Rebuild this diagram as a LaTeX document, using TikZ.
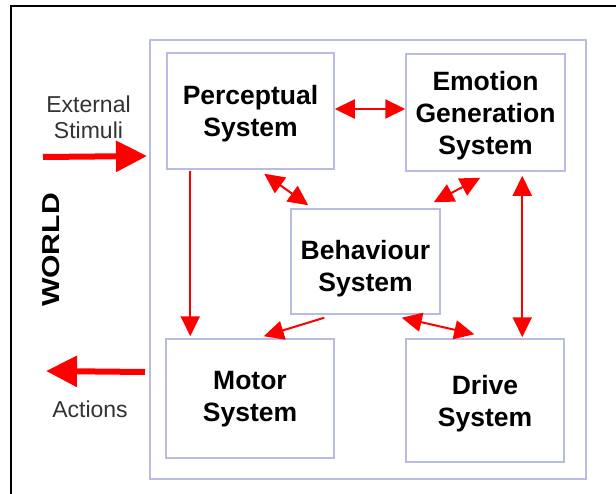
\documentclass[tikz,border=0pt]{standalone}
\usepackage{fontspec}
\usepackage{graphicx}
\setmainfont{Liberation Sans}
\usetikzlibrary{arrows.meta,calc}
\definecolor{boxblue}{RGB}{184,188,228}
\definecolor{arrowred}{RGB}{255,0,0}
\definecolor{labelgray}{RGB}{51,51,51}

\begin{document}
\begin{tikzpicture}[x=1bp,y=-1bp,
  sysbox/.style={draw=boxblue, line width=1.5bp, fill=white, inner sep=0pt,
    align=center, text=black,
    font=\fontsize{26.5bp}{32bp}\selectfont\bfseries},
  % lowers the label inside its box by adjusting the text box depth
  lower/.style={text depth=#1},
  link/.style={draw=arrowred, line width=2bp, -{Triangle[length=20bp,width=19bp]}},
  duplex/.style={link, {Triangle[length=20bp,width=19bp]}-{Triangle[length=20bp,width=19bp]}},
  bigarrow/.style={draw=arrowred, line width=6bp, -{Triangle[length=31bp,width=30bp]}},
  side/.style={font=\fontsize{23bp}{26bp}\selectfont, text=labelgray, align=center}]

  % page and outer frame
  \useasboundingbox (0,0) rectangle (616,494);
  \fill[white] (0,0) rectangle (616,494);
  \draw[black, line width=2bp] (11,494) -- (11,6) -- (616,6);

  % the agent's enclosing box
  \node[draw=boxblue, line width=2bp, inner sep=0pt,
        minimum width=436bp, minimum height=439bp] (world) at (368,259.5) {};

  % subsystems
  \node[sysbox, lower=-0.4bp, minimum width=167bp, minimum height=116bp] (perc)  at (250.5,111)   {Perceptual\\System};
  \node[sysbox, lower=-3.4bp, minimum width=159bp, minimum height=117bp] (emo)   at (485.5,112.5) {Emotion\\Generation\\System};
  \node[sysbox, text depth=0bp, text height=60bp, minimum width=149bp, minimum height=105bp] (beh) at (365.5,261.5) {Behaviour\\System};
  \node[sysbox, lower=3.6bp,  minimum width=168bp, minimum height=119bp] (motor) at (250,398.5)   {Motor\\System};
  \node[sysbox, lower=-3.4bp, minimum width=158bp, minimum height=123bp] (drive) at (485,400.5)   {Drive\\System};

  % side labels
  \node[side] (stim) at (88.5,117) {External\\Stimuli};
  \node[side] (act)  at (90,409)   {Actions};
  \node[rotate=90, text=black, font=\fontsize{24.5bp}{28bp}\selectfont\bfseries]
       (worldlabel) at (51,250) {\scalebox{1.23}[1]{WORLD}};

  % input and output of the agent
  \coordinate (stimtail) at (43,157);
  \coordinate (acttip)   at (46,371);
  \draw[bigarrow] (stimtail) -- ($(world.north west)+(-2,117)$);
  \draw[bigarrow] ($(world.south west)+(-4,-108)$) -- (acttip);

  % internal connections
  \draw[duplex] ($(perc.east)+(0,-2)$) -- ($(emo.west)+(0,-3.5)$);
  \draw[link]   ($(perc.south west)+(24,1)$) -- ($(motor.north west)+(25,-2)$);
  \draw[duplex] ($(perc.south west)+(98,4)$) -- ($(beh.north west)+(18,-3)$);
  \draw[duplex] ($(beh.north east)+(-7,-6)$) -- ($(emo.south west)+(75,6)$);
  \draw[duplex] ($(emo.south west)+(117,4)$) -- ($(drive.north west)+(117,-1)$);
  \draw[link]   ($(beh.south west)+(34,3)$) -- ($(motor.north east)+(-71,-2)$);
  \draw[duplex] ($(beh.south east)+(-39,3)$) -- ($(drive.north west)+(69,-4)$);
\end{tikzpicture}
\end{document}
